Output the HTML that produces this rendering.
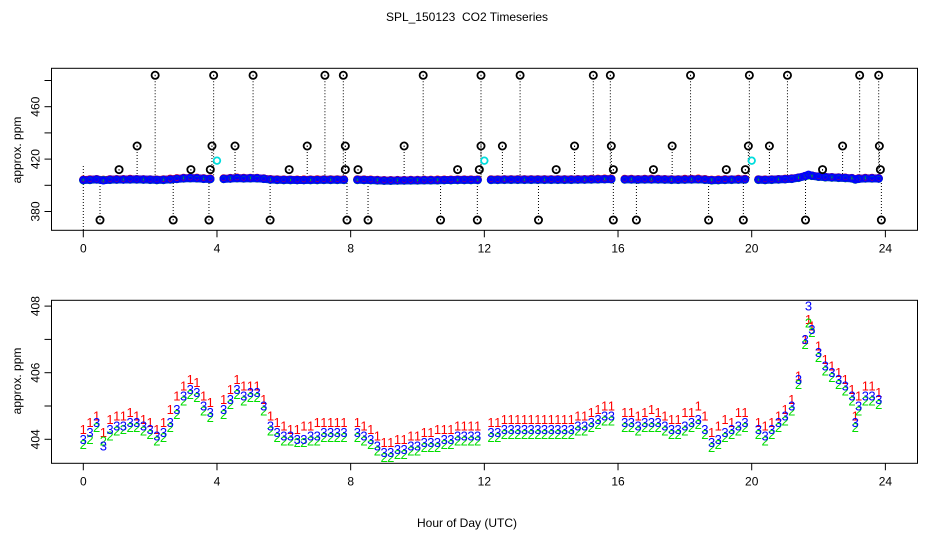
<!DOCTYPE html>
<html><head><meta charset="utf-8"><style>
html,body{margin:0;padding:0;background:#fff;}
svg{display:block;font-family:"Liberation Sans",sans-serif;}
</style></head><body>
<svg id="chart" width="936" height="540" viewBox="0 0 936 540">
<text x="467" y="21" font-size="12" text-anchor="middle" style="white-space:pre">SPL_150123&#160; CO2 Timeseries</text>
<text x="467" y="527" font-size="12" text-anchor="middle">Hour of Day (UTC)</text>
<text transform="translate(21,150) rotate(-90)" font-size="12" text-anchor="middle">approx. ppm</text>
<text transform="translate(21,381) rotate(-90)" font-size="12" text-anchor="middle">approx. ppm</text>
<g id="top"></g>
<g id="bot"></g>
</svg>
<script>
const hours=[0,0.2,0.4,0.6,0.8,1,1.2,1.4,1.6,1.8,2,2.2,2.4,2.6,2.8,3,3.2,3.4,3.6,3.8,
4.2,4.4,4.6,4.8,5,5.2,5.4,5.6,5.8,6,6.2,6.4,6.6,6.8,7,7.2,7.4,7.6,7.8,
8.2,8.4,8.6,8.8,9,9.2,9.4,9.6,9.8,10,10.2,10.4,10.6,10.8,11,11.2,11.4,11.6,11.8,
12.2,12.4,12.6,12.8,13,13.2,13.4,13.6,13.8,14,14.2,14.4,14.6,14.8,15,15.2,15.4,15.6,15.8,
16.2,16.4,16.6,16.8,17,17.2,17.4,17.6,17.8,18,18.2,18.4,18.6,18.8,19,19.2,19.4,19.6,19.8,
20.2,20.4,20.6,20.8,21,21.2,21.4,21.6,21.7,21.8,22,22.2,22.4,22.6,22.8,23,23.1,23.2,23.4,23.6,23.8];
const s1=[404.3,404.5,404.7,404.2,404.6,404.7,404.7,404.8,404.7,404.6,404.5,404.3,404.5,404.9,405.3,405.6,405.8,405.7,405.3,405.1,
405.2,405.5,405.8,405.6,405.6,405.6,405.2,404.7,404.5,404.4,404.3,404.3,404.4,404.4,404.5,404.5,404.5,404.5,404.5,
404.5,404.4,404.3,404.1,403.9,403.9,404.0,404.0,404.1,404.1,404.2,404.2,404.3,404.3,404.3,404.4,404.4,404.4,404.4,
404.5,404.5,404.6,404.6,404.6,404.6,404.6,404.6,404.6,404.6,404.6,404.6,404.6,404.7,404.7,404.8,404.9,405.0,405.0,
404.8,404.8,404.7,404.8,404.9,404.8,404.7,404.6,404.6,404.8,404.8,405.0,404.7,404.2,404.4,404.6,404.5,404.8,404.8,
404.5,404.4,404.5,404.7,404.9,405.2,405.9,407.0,407.6,407.4,406.8,406.4,406.2,406.0,405.8,405.5,404.7,405.3,405.6,405.6,405.4];
const s2=[403.85,404.0,404.35,403.95,404.1,404.25,404.3,404.35,404.35,404.25,404.15,403.95,404.05,404.35,404.75,405.15,405.35,405.25,404.85,404.65,
404.75,405.05,405.35,405.15,405.25,405.25,404.85,404.25,404.05,403.95,403.95,403.9,403.9,403.95,403.95,404.05,404.05,404.05,404.05,
404.05,403.95,403.85,403.65,403.45,403.45,403.55,403.55,403.65,403.65,403.75,403.75,403.75,403.85,403.85,403.95,403.95,403.95,403.95,
404.05,404.05,404.15,404.15,404.15,404.15,404.15,404.15,404.15,404.15,404.15,404.15,404.15,404.25,404.25,404.35,404.45,404.55,404.55,
404.35,404.35,404.25,404.35,404.35,404.35,404.25,404.15,404.15,404.25,404.35,404.45,404.15,403.75,403.85,404.05,404.15,404.25,404.35,
404.15,403.95,404.15,404.35,404.55,404.85,405.65,406.85,407.5,407.2,406.45,406.05,405.85,405.65,405.45,405.15,404.35,404.85,405.15,405.15,405.05];
const s3=[404.0,404.2,404.5,403.8,404.3,404.4,404.4,404.5,404.5,404.4,404.3,404.1,404.2,404.5,404.9,405.3,405.5,405.4,405.0,404.8,
404.9,405.2,405.5,405.3,405.4,405.4,405.0,404.4,404.2,404.1,404.1,404.0,404.0,404.1,404.1,404.2,404.2,404.2,404.2,
404.2,404.1,404.0,403.8,403.6,403.6,403.7,403.7,403.8,403.8,403.9,403.9,403.9,404.0,404.0,404.1,404.1,404.1,404.1,
404.2,404.2,404.3,404.3,404.3,404.3,404.3,404.3,404.3,404.3,404.3,404.3,404.3,404.4,404.4,404.5,404.6,404.7,404.7,
404.5,404.5,404.4,404.5,404.5,404.5,404.4,404.3,404.3,404.4,404.5,404.6,404.3,403.9,404.0,404.2,404.3,404.4,404.5,
404.3,404.1,404.3,404.5,404.7,405.0,405.8,407.0,408.0,407.3,406.6,406.2,406.0,405.8,405.6,405.3,404.5,405.0,405.3,405.3,405.2];
const outHours=[2.15,3.9,5.08,7.23,7.78,10.17,11.9,13.07,15.26,15.77,18.17,19.93,21.07,23.23,23.8,
0.5,2.69,3.76,5.59,7.89,8.52,10.69,11.79,13.62,15.86,16.55,18.71,19.75,21.61,23.88,
1.61,3.85,4.54,6.7,7.84,9.6,11.9,12.54,14.7,15.8,17.62,19.9,20.53,22.72,23.82,
1.07,3.22,3.8,6.16,7.84,8.22,11.2,11.85,14.15,15.86,17.06,19.24,19.81,22.12,23.85];
const outValues=[484,484,484,484,484,484,484,484,484,484,484,484,484,484,484,
373.5,373.5,373.5,373.5,373.5,373.5,373.5,373.5,373.5,373.5,373.5,373.5,373.5,373.5,373.5,
430,430,430,430,430,430,430,430,430,430,430,430,430,430,430,
412,412,412,412,412,412,412,412,412,412,412,412,412,412,412];
const cyanHours=[4.0,12.0,20.0];
const cyanValues=[418.8,418.8,418.8];
const xTicks=[0,4,8,12,16,20,24];
const topYTicks=[380,400,420,440,460,480];
const topYLabels=["380","","420","","460",""];
const botYTicks=[404,405,406,407,408];
const botYLabels=["404","","406","","408"];

const NS="http://www.w3.org/2000/svg";
function mk(parent,tag,attrs){const e=document.createElementNS(NS,tag);for(const k in attrs)e.setAttribute(k,attrs[k]);parent.appendChild(e);return e;}
const X=h=>83.3+h*33.42;
const Yt=v=>185.3-(v-400)*1.31;
const Yb=v=>439.3-(v-404)*33.3;
const L=51.5,R=917.5;

function panel(g,top,bottom,ticksY,labelsY,Y,prefix){
  const box=mk(g,'rect',{x:L,y:top,width:R-L,height:bottom-top,fill:'none',stroke:'#000','stroke-width':1});
  
  
  xTicks.forEach(t=>{
    const ln=mk(g,'line',{x1:X(t),x2:X(t),y1:bottom,y2:bottom+7,stroke:'#000'});
    
    
    const tx=mk(g,'text',{x:X(t),y:bottom+22,'font-size':12,'text-anchor':'middle'});
    tx.textContent=t;
    
    
  });
  ticksY.forEach((t,i)=>{
    const y=Y(t);
    const ln=mk(g,'line',{x1:L-7,x2:L,y1:y,y2:y,stroke:'#000'});
    
    
    if(labelsY[i]){
      const tx=mk(g,'text',{transform:`translate(${L-12},${y}) rotate(-90)`,'font-size':12,'text-anchor':'middle'});
      tx.textContent=labelsY[i];
      
      
    }
  });
}
const gt=document.getElementById('top'), gb=document.getElementById('bot');
panel(gt,68.3,230.3,topYTicks,topYLabels,Yt,'top');
panel(gb,300.3,463.3,botYTicks,botYLabels,Yb,'bottom');

// top: dotted drop lines
outHours.forEach((h,i)=>{
  const ln=mk(gt,'line',{x1:X(h),x2:X(h),y1:Yt(outValues[i]),y2:Yt(404),stroke:'#000','stroke-dasharray':'1,2'});
  
  
});
const sl=mk(gt,'line',{x1:X(0),x2:X(0),y1:230,y2:165,stroke:'#000','stroke-dasharray':'1,2'});


// dense band segments (split at gaps)
let segs=[[]];
hours.forEach((h,i)=>{ if(i>0 && h-hours[i-1]>0.3) segs.push([]); segs[segs.length-1].push(i); });
segs.forEach(sg=>{
  const pts=sg.map(i=>X(hours[i])+','+Yt(s3[i])).join(' ');
  const pl=mk(gt,'polyline',{points:pts,fill:'none',stroke:'#0000ff','stroke-width':8,'stroke-linecap':'round','stroke-linejoin':'round'});
  
  
});
[[s1,'#ff0000','series-1'],[s2,'#00cc00','series-2'],[s3,'#0000ff','series-3']].forEach(([s,c,n])=>{
  s.forEach((v,i)=>{
    const ci=mk(gt,'circle',{cx:X(hours[i]),cy:Yt(v),r:3.2,fill:'none',stroke:c,'stroke-width':2});
    
    
  });
});
s3.forEach((v,i)=>{
  if(i%3) return;
  const d=mk(gt,'rect',{x:X(hours[i])-0.5,y:Yt(v)-1,width:1,height:2,fill:'#00cc00'});
  
  
});
outHours.forEach((h,i)=>{
  const ci=mk(gt,'circle',{cx:X(h),cy:Yt(outValues[i]),r:3.6,fill:'none',stroke:'#000','stroke-width':1.8});
  
  
  const d=mk(gt,'rect',{x:X(h)-0.5,y:Yt(outValues[i])-0.5,width:1,height:1,fill:'#000'});
  
  
});
cyanHours.forEach((h,i)=>{
  const ci=mk(gt,'circle',{cx:X(h),cy:Yt(cyanValues[i]),r:3.3,fill:'none',stroke:'#00dddd','stroke-width':1.8});
  
  
});

// bottom: character plots
[[s1,'#ff0000','1','series-1'],[s2,'#00dd00','2','series-2'],[s3,'#0000ff','3','series-3']].forEach(([s,c,ch,n])=>{
  s.forEach((v,i)=>{
    const t=mk(gb,'text',{x:X(hours[i]),y:Yb(v)+4.5,'font-size':13,fill:c,'text-anchor':'middle'});
    t.textContent=ch;
    
    
  });
});
</script>
</body></html>
